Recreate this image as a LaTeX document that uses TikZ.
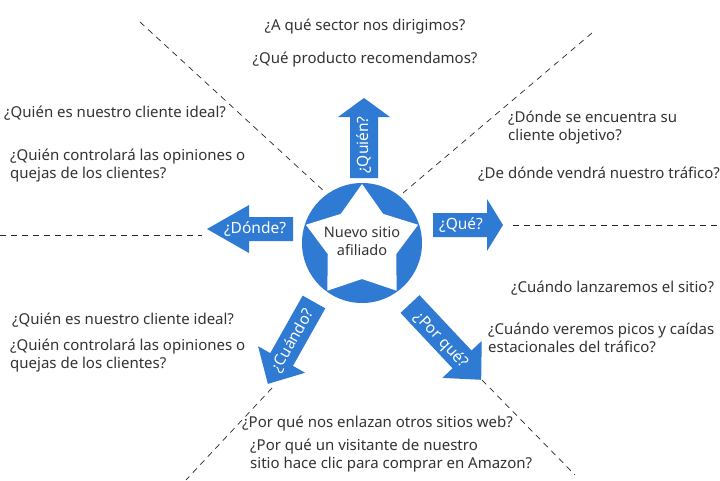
\documentclass[tikz,border=0pt]{standalone}
\usepackage{fontspec}
\setmainfont{Noto Sans}
\begin{document}
\begin{tikzpicture}[x=1pt,y=-1pt,
  dline/.style={dash pattern=on 6pt off 5pt, line width=0.7pt, draw=black!85},
  q/.style={anchor=west, align=left, font=\fontsize{15}{18}\selectfont, text=black!80, inner sep=0pt},
  lab/.style={font=\fontsize{15.5}{17}\selectfont, text=white, inner sep=0pt}]
\definecolor{ablue}{HTML}{2F7AD3}
\useasboundingbox[fill=white] (0,0) rectangle (720,480);
% dashed lines
\coordinate (d1a) at (140,22); \coordinate (d1b) at (326,193);
\coordinate (d2a) at (592,33); \coordinate (d2b) at (403,193);
\coordinate (d3a) at (0,235); \coordinate (d3b) at (202,235);
\coordinate (d4a) at (513,225); \coordinate (d4b) at (720,225);
\coordinate (d5a) at (272,388); \coordinate (d5b) at (186,480);
\coordinate (d6a) at (482,380); \coordinate (d6b) at (575,475);
\foreach \a/\b in {d1a/d1b,d2a/d2b,d3a/d3b,d4a/d4b,d5a/d5b,d6a/d6b} \draw[dline] (\a) -- (\b);
% center
\node[circle, fill=ablue, minimum size=120pt, inner sep=0pt] (hub) at (362,243) {};
\begin{scope}[shift={(362,243)}]
\fill[white] (-90:59) -- (-54:36) -- (-18:59) -- (18:36) -- (54:59) -- (90:36) -- (126:59) -- (162:36) -- (198:59) -- (234:36) -- cycle;
\end{scope}
\node[align=center, font=\fontsize{14.5}{18}\selectfont, text=black!80] (ctr) at (362,241) {Nuevo sitio\\afiliado};
% arrows: x y angle len headlen shafthalf headhalf
\newcommand\myarrow[7]{%
\begin{scope}[shift={(#1,#2)},rotate=#3,y=1pt]
\fill[ablue] (0,-#6) -- (#4-#5,-#6) -- (#4-#5,-#7) -- (#4,0) -- (#4-#5,#7) -- (#4-#5,#6) -- (0,#6) -- cycle;
\end{scope}}
\myarrow{364}{178}{90}{80}{19}{14}{26}
\node[lab, rotate=90] (quien) at (364,145) {¿Quién?};
\myarrow{293}{229}{180}{86}{42}{12}{24}
\node[lab] (donde) at (255,229) {¿Dónde?};
\myarrow{433}{225}{0}{70}{16}{12}{26}
\node[lab] (que) at (461,225) {¿Qué?};
\myarrow{314}{302}{-119.4}{94}{28}{13}{27}
\node[lab, rotate=60.6] (cuando) at (293,341) {¿Cuándo?};
\myarrow{410}{304}{-46.8}{104}{28}{13}{27}
\node[lab, rotate=-46.8] (porque) at (441,340) {¿Por qué?};
% texts
\node[q, anchor=center] (t1) at (365,27) {¿A qué sector nos dirigimos?};
\node[q, anchor=center] (t2) at (365,60) {¿Qué producto recomendamos?};
\node[q] (t3) at (4,113) {¿Quién es nuestro cliente ideal?};
\node[q] (t4) at (10,166) {¿Quién controlará las opiniones o\\quejas de los clientes?};
\node[q] (t5) at (508,128) {¿Dónde se encuentra su\\cliente objetivo?};
\node[q] (t6) at (478,174) {¿De dónde vendrá nuestro tráfico?};
\node[q] (t7) at (511,288) {¿Cuándo lanzaremos el sitio?};
\node[q] (t8) at (488,338) {¿Cuándo veremos picos y caídas\\estacionales del tráfico?};
\node[q] (t9) at (12,320) {¿Quién es nuestro cliente ideal?};
\node[q] (t10) at (10,356) {¿Quién controlará las opiniones o\\quejas de los clientes?};
\node[q] (t11) at (242,424) {¿Por qué nos enlazan otros sitios web?};
\node[q] (t12) at (250,456) {¿Por qué un visitante de nuestro\\sitio hace clic para comprar en Amazon?};
\end{tikzpicture}
\end{document}
